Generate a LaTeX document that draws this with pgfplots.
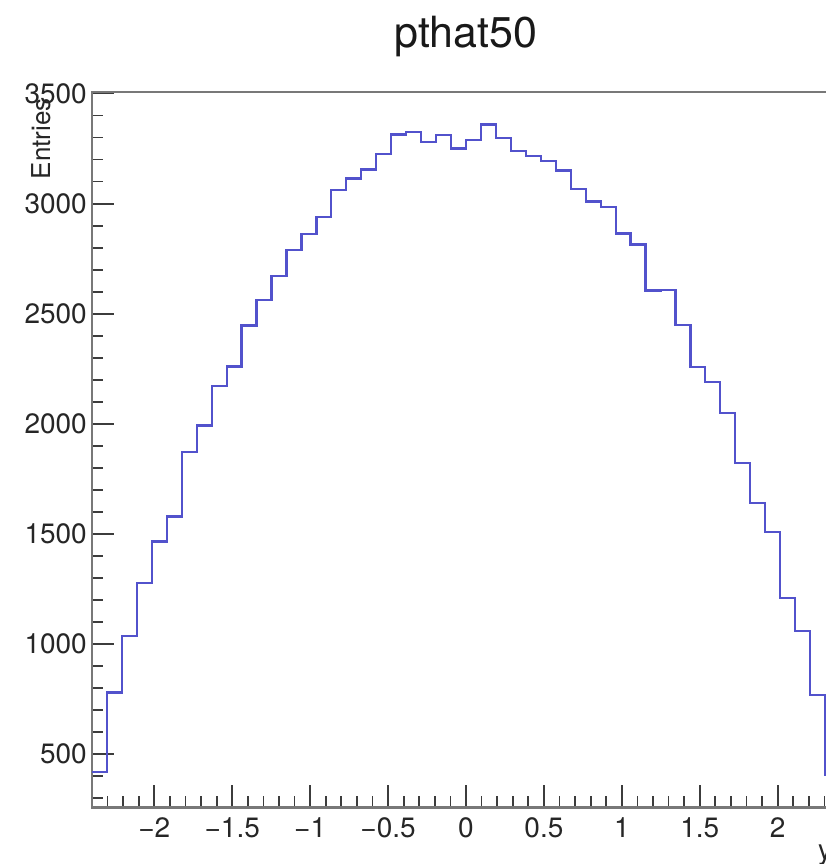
\documentclass[border=0pt]{standalone}
\usepackage{pgfplots}
\pgfplotsset{compat=1.18}
\usepackage{fontspec}
\setmainfont{TeX Gyre Heros}

\definecolor{histblue}{RGB}{82,82,204}
\definecolor{framegray}{RGB}{120,120,120}
\definecolor{tickgray}{RGB}{60,60,60}

% bin content per bin, keyed by the left bin edge (50 bins on [-2.4,2.4])
\pgfplotstableread{
x      n
-2.400 420
-2.304 779
-2.208 1036
-2.112 1276
-2.016 1465
-1.920 1579
-1.824 1872
-1.728 1992
-1.632 2170
-1.536 2260
-1.440 2446
-1.344 2561
-1.248 2670
-1.152 2791
-1.056 2862
-0.960 2938
-0.864 3060
-0.768 3114
-0.672 3155
-0.576 3227
-0.480 3314
-0.384 3326
-0.288 3280
-0.192 3310
-0.096 3250
0.000  3288
0.096  3359
0.192  3298
0.288  3238
0.384  3215
0.480  3192
0.576  3150
0.672  3067
0.768  3010
0.864  2985
0.960  2864
1.056  2814
1.152  2605
1.248  2607
1.344  2450
1.440  2258
1.536  2190
1.632  2049
1.728  1822
1.824  1640
1.920  1508
2.016  1210
2.112  1058
2.208  768
2.304  405
2.400  405
}\histdata

\begin{document}
\begin{tikzpicture}
\begin{axis}[
  scale only axis,
  width=748pt, height=715.5pt,
  xmin=-2.4, xmax=2.4,
  ymin=257, ymax=3507,
  axis line style={draw=framegray, line width=2.2pt},
  tick pos=left,
  tick align=inside,
  major tick length=22pt,
  minor tick length=11pt,
  every tick/.style={tickgray, line width=1.8pt},
  xtick={-2,-1.5,-1,-0.5,0,0.5,1,1.5,2},
  xticklabels={−2,−1.5,−1,−0.5,0,0.5,1,1.5,2},
  minor xtick={-2.3,-2.2,-2.1,-1.9,-1.8,-1.7,-1.6,-1.4,-1.3,-1.2,-1.1,
               -0.9,-0.8,-0.7,-0.6,-0.4,-0.3,-0.2,-0.1,
               0.1,0.2,0.3,0.4,0.6,0.7,0.8,0.9,1.1,1.2,1.3,1.4,
               1.6,1.7,1.8,1.9,2.1,2.2,2.3},
  ytick={500,1000,1500,2000,2500,3000,3500},
  yticklabels={500,1000,1500,2000,2500,3000,3500},
  minor ytick={300,400,600,700,800,900,1100,1200,1300,1400,
               1600,1700,1800,1900,2100,2200,2300,2400,
               2600,2700,2800,2900,3100,3200,3300,3400},
  ticklabel style={font=\fontsize{28}{28}\selectfont, text=black!85},
  xticklabel style={anchor=north, inner sep=0pt, yshift=-10pt},
  yticklabel style={anchor=east, inner sep=0pt, xshift=-5pt},
]
\addplot[const plot, histblue, line width=2.2pt] table[x=x, y=n] {\histdata};
\end{axis}

% histogram title, axis titles
\node[anchor=base, inner sep=0pt, font=\fontsize{43}{43}\selectfont, text=black!90]
  at (374pt,759.5pt) {pthat50};
\node[rotate=90, anchor=base east, inner sep=0pt, font=\fontsize{26}{26}\selectfont, text=black!85]
  at (-41pt,709.5pt) {Entries};
\node[anchor=north west, inner sep=0pt, font=\fontsize{28}{28}\selectfont, text=black!85]
  at (726pt,-37.5pt) {y};

\pgfresetboundingbox
\path[use as bounding box] (-92pt,-56.5pt) rectangle (734pt,807.5pt);
\end{tikzpicture}
\end{document}
